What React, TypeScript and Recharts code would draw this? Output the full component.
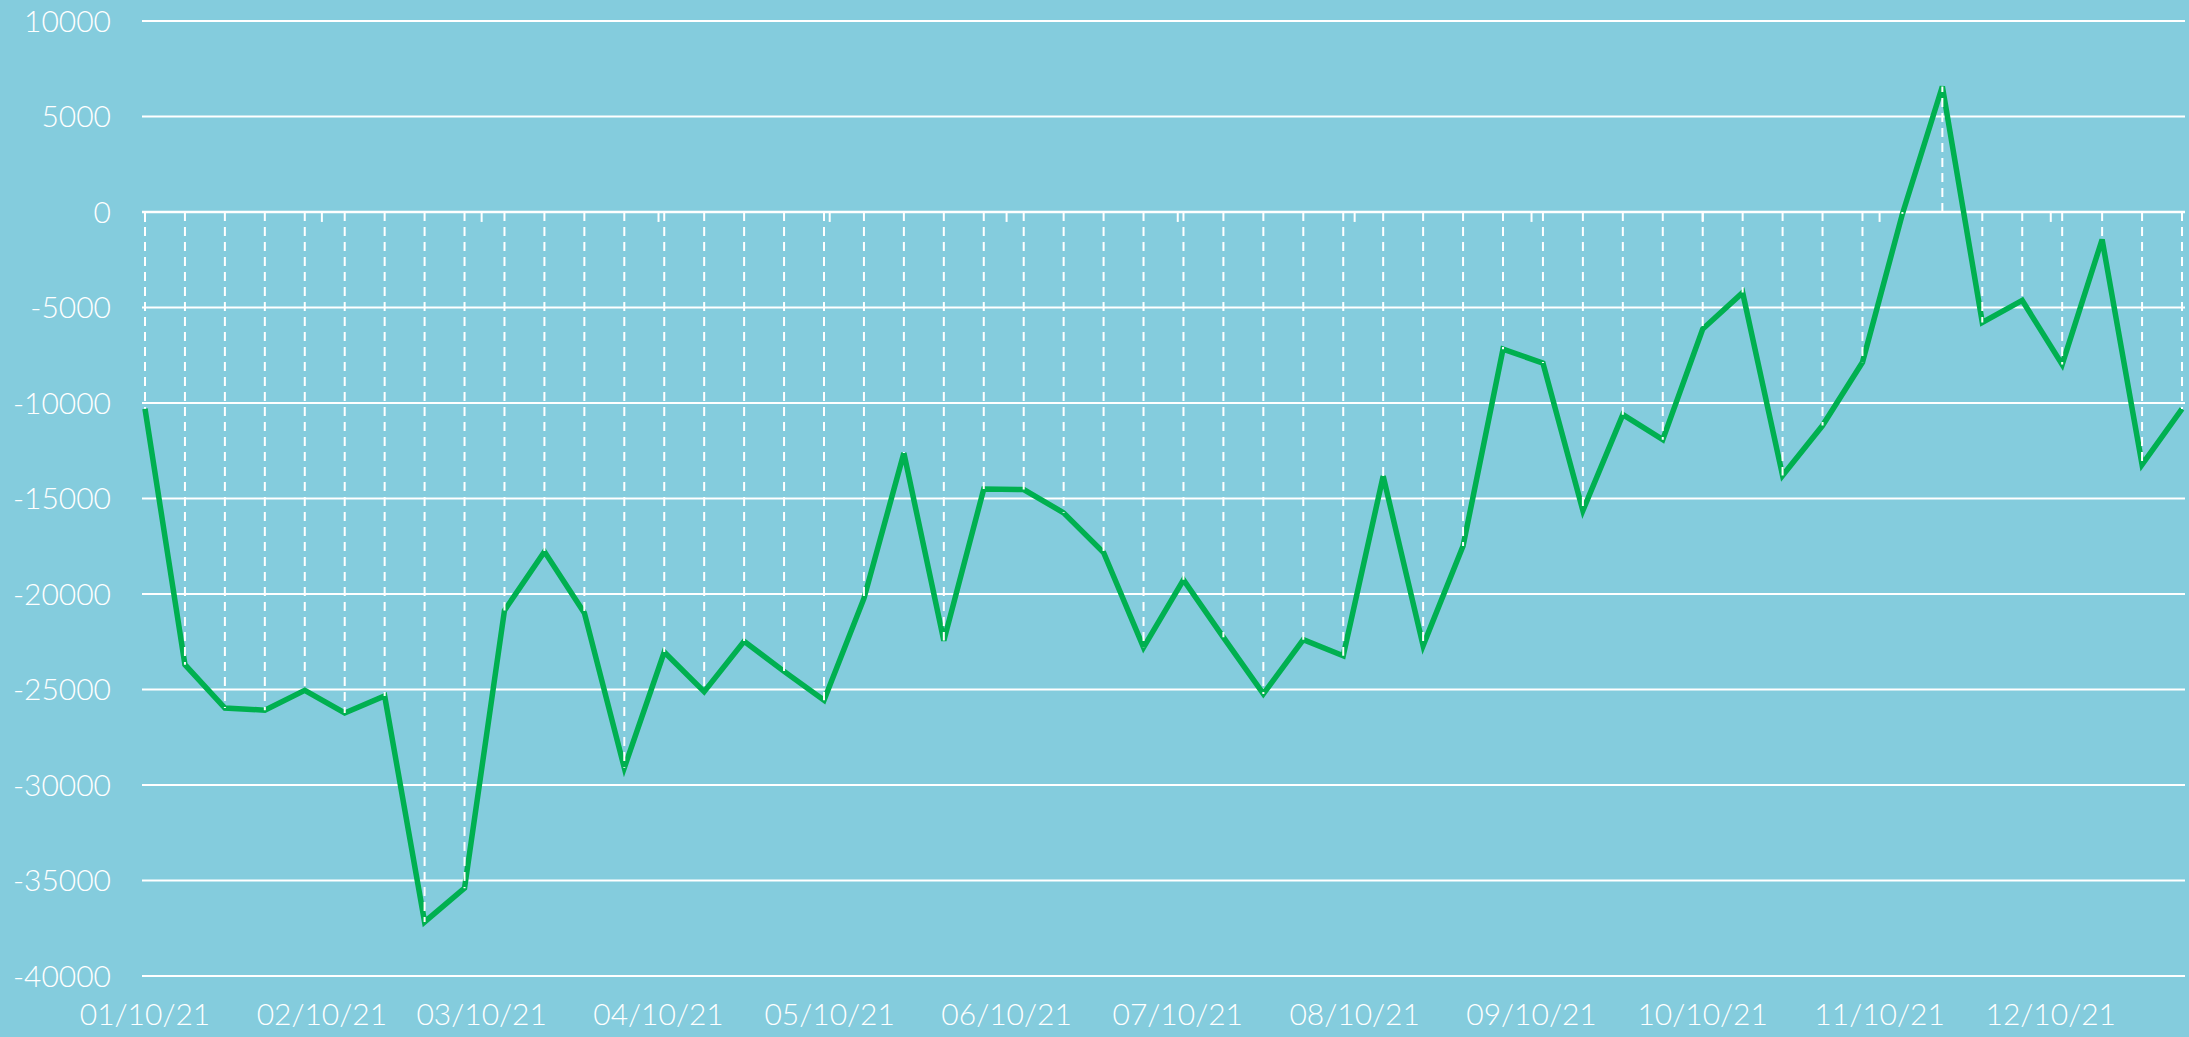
import React from 'react'
import { LineChart, Line, XAxis, YAxis, CartesianGrid, ReferenceLine } from 'recharts'

// weekly dates (MM/DD/YY)
const weekDates = [
  '01/10/21', '01/17/21', '01/24/21', '01/31/21',
  '02/07/21', '02/14/21', '02/21/21', '02/28/21',
  '03/07/21', '03/14/21', '03/21/21', '03/28/21',
  '04/04/21', '04/11/21', '04/18/21', '04/25/21',
  '05/02/21', '05/09/21', '05/16/21', '05/23/21', '05/30/21',
  '06/06/21', '06/13/21', '06/20/21', '06/27/21',
  '07/04/21', '07/11/21', '07/18/21', '07/25/21',
  '08/01/21', '08/08/21', '08/15/21', '08/22/21', '08/29/21',
  '09/05/21', '09/12/21', '09/19/21', '09/26/21',
  '10/03/21', '10/10/21', '10/17/21', '10/24/21', '10/31/21',
  '11/07/21', '11/14/21', '11/21/21', '11/28/21',
  '12/05/21', '12/12/21', '12/19/21', '12/26/21',
  '01/02/22',
]

const weeklyValues = [
  -10300, -23700, -25970, -26080, -25040, -26230, -25340, -37170, -35400, -20860,
  -17780, -20990, -29100, -23040, -25110, -22480, -24050, -25560, -20230, -12620,
  -22440, -14500, -14530, -15750, -17830, -22790, -19260, -22270, -25230, -22390,
  -23230, -13830, -22700, -17490, -7180, -7910, -15630, -10610, -11920, -6130,
  -4220, -13800, -11180, -7870, -100, 6570, -5780, -4630, -7980, -1440,
  -13220, -10310,
]

const monthTicks = [
  '01/10/21', '02/10/21', '03/10/21', '04/10/21', '05/10/21', '06/10/21',
  '07/10/21', '08/10/21', '09/10/21', '10/10/21', '11/10/21', '12/10/21',
]

const yTicks = [-40000, -35000, -30000, -25000, -20000, -15000, -10000, -5000, 0, 5000, 10000]

const toTime = (s: string) => {
  const [m, d, y] = s.split('/').map(Number)
  return Date.UTC(2000 + y, m - 1, d)
}

const pad = (n: number) => String(n).padStart(2, '0')
const fmtDate = (t: number) => {
  const d = new Date(t)
  return `${pad(d.getUTCMonth() + 1)}/${pad(d.getUTCDate())}/${pad(d.getUTCFullYear() % 100)}`
}

const data = weekDates.map((d, i) => ({ t: toTime(d), value: weeklyValues[i] }))
const tickTimes = monthTicks.map(toTime)

const FONT = 'Lato, "Open Sans", sans-serif'
const BG = '#84CCDD'

export default function App() {
  return (
    <div style={{ position: 'absolute', left: 0, top: 0, width: 2189, height: 1037, background: BG }}>
      <LineChart width={2189} height={1037} data={data} margin={{ top: 21, right: 4, left: 0, bottom: 0 }}>
        <CartesianGrid vertical={false} stroke="#ffffff" strokeWidth={2} />
        <XAxis
          dataKey="t"
          type="number"
          scale="time"
          domain={[data[0].t, data[data.length - 1].t]}
          ticks={tickTimes}
          tickFormatter={fmtDate}
          padding={{ left: 3, right: 3 }}
          height={61}
          axisLine={false}
          tickLine={false}
          tickSize={0}
          tickMargin={28}
          interval={0}
          tick={{ fill: '#ffffff', fontSize: 30, fontFamily: FONT, fontWeight: 300 }}
        />
        <YAxis
          domain={[-40000, 10000]}
          ticks={yTicks}
          width={142}
          axisLine={false}
          tickLine={false}
          tickSize={0}
          tickMargin={31}
          interval={0}
          tick={{ fill: '#ffffff', fontSize: 30, fontFamily: FONT, fontWeight: 300 }}
        />
        <ReferenceLine y={0} stroke="#ffffff" strokeWidth={2.5} />
        {tickTimes.map((t) => (
          <ReferenceLine
            key={`tk${t}`}
            segment={[{ x: t, y: 0 }, { x: t, y: -520 }]}
            stroke="#ffffff"
            strokeWidth={2}
          />
        ))}
        <Line
          type="linear"
          dataKey="value"
          stroke="#00B050"
          strokeWidth={5.5}
          dot={false}
          activeDot={false}
          isAnimationActive={false}
        />
        {data.map((p) => (
          <ReferenceLine
            key={`dl${p.t}`}
            segment={[{ x: p.t, y: 0 }, { x: p.t, y: p.value }]}
            stroke="#ffffff"
            strokeWidth={2}
            strokeDasharray="9 6"
          />
        ))}
      </LineChart>
    </div>
  )
}
